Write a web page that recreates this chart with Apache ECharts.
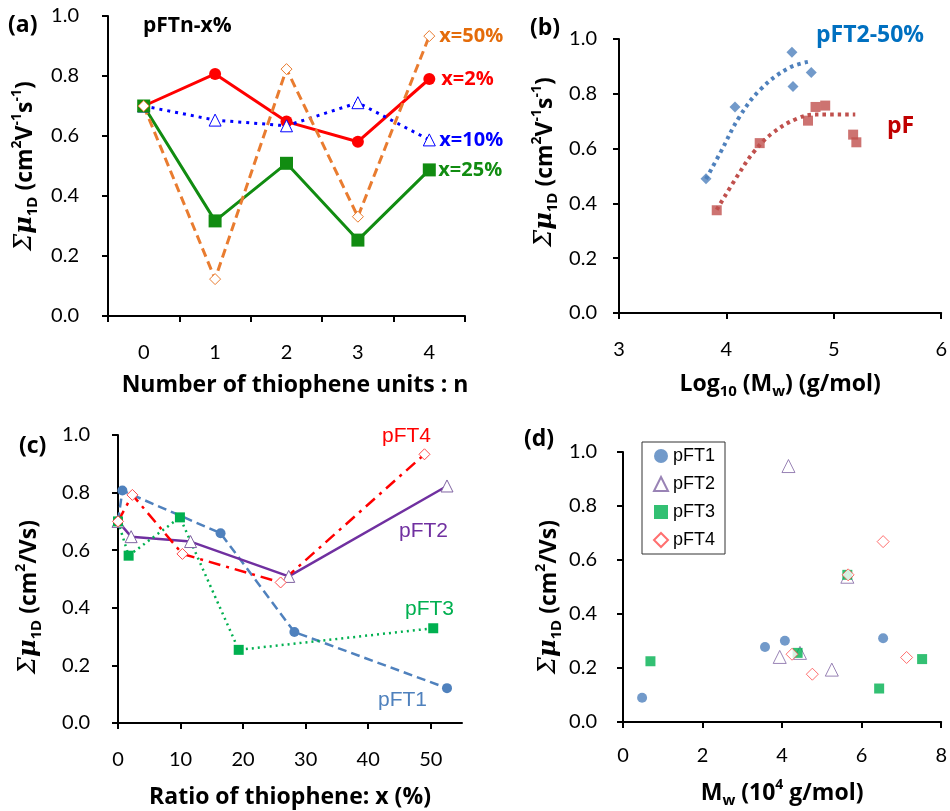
<!DOCTYPE html>
<html><head><meta charset="utf-8">
<script src="https://cdn.jsdelivr.net/npm/echarts@6.0.0/dist/echarts.min.js"></script>
<style>html,body{margin:0;padding:0;background:#fff}#c{width:950px;height:811px}</style>
</head><body><div id="c"></div>
<script>
// ---------- Panel (a): mobility vs number of thiophene units n ----------
const aCategories = ['0', '1', '2', '3', '4'];
const aX2  = [0.700, 0.807, 0.648, 0.581, 0.790];
const aX10 = [0.700, 0.653, 0.634, 0.711, 0.587];
const aX25 = [0.700, 0.317, 0.509, 0.253, 0.487];
const aX50 = [0.700, 0.123, 0.823, 0.331, 0.933];

// ---------- Panel (b): mobility vs log10(Mw) ----------
const bPFT2x = [3.81, 4.08, 4.61, 4.62, 4.79];
const bPFT2y = [0.490, 0.752, 0.952, 0.827, 0.878];
const bPFx = [3.91, 4.31, 4.76, 4.83, 4.92, 5.18, 5.21];
const bPFy = [0.375, 0.620, 0.702, 0.752, 0.757, 0.651, 0.623];
// trend lines
const bPFT2TrendX = [3.81, 3.95, 4.12, 4.32, 4.58, 4.78];
const bPFT2TrendY = [0.489, 0.590, 0.715, 0.817, 0.894, 0.918];
const bPFTrendX = [3.91, 4.12, 4.26, 4.43, 4.65, 4.83, 5.20];
const bPFTrendY = [0.377, 0.511, 0.590, 0.657, 0.708, 0.724, 0.724];

// ---------- Panel (c): mobility vs ratio of thiophene x (%) ----------
const cPFT1x = [0, 0.7, 16.4, 28.2, 52.6];
const cPFT1y = [0.700, 0.807, 0.659, 0.316, 0.121];
const cPFT2x = [0, 2.1, 11.6, 27.3, 52.6];
const cPFT2y = [0.700, 0.647, 0.630, 0.509, 0.823];
const cPFT3x = [0, 1.7, 9.9, 19.3, 50.4];
const cPFT3y = [0.700, 0.581, 0.714, 0.254, 0.329];
const cPFT4x = [0, 2.3, 10.3, 26.0, 49.0];
const cPFT4y = [0.700, 0.792, 0.587, 0.488, 0.933];

// ---------- Panel (d): mobility vs Mw (10^4 g/mol) ----------
const dPFT1x = [0.48, 3.57, 4.07, 6.54];
const dPFT1y = [0.090, 0.278, 0.301, 0.310];
const dPFT2x = [4.16, 3.94, 4.45, 5.25, 5.64];
const dPFT2y = [0.948, 0.241, 0.256, 0.194, 0.538];
const dPFT3x = [0.69, 4.39, 5.64, 6.44, 7.52];
const dPFT3y = [0.225, 0.256, 0.545, 0.124, 0.233];
const dPFT4x = [4.25, 4.76, 5.66, 6.54, 7.13];
const dPFT4y = [0.251, 0.177, 0.545, 0.668, 0.239];

// tick values
const cXTicks = [0, 10, 20, 30, 40, 50];

const zip = (xs, ys) => xs.map((x, i) => [x, ys[i]]);

const FONT = 'Lato';
const BOLD = 'Open Sans';
const ARIAL = 'Liberation Sans';

const richY = {
  m:   {fontSize: 24, fontFamily: 'DejaVu Serif', fontStyle: 'italic', color: '#000', lineHeight: 30, verticalAlign: 'middle'},
  mu:  {fontSize: 24, fontFamily: 'DejaVu Serif', fontStyle: 'italic', fontWeight: 'bold', color: '#000', lineHeight: 30, verticalAlign: 'middle'},
  t:   {fontSize: 23, fontFamily: BOLD, fontWeight: 'bold', color: '#000', lineHeight: 30, verticalAlign: 'middle'},
  sup: {fontSize: 14, fontFamily: BOLD, fontWeight: 'bold', color: '#000', lineHeight: 16, verticalAlign: 'top'},
  sub: {fontSize: 15, fontFamily: BOLD, fontWeight: 'bold', color: '#000', lineHeight: 16, verticalAlign: 'bottom'}
};
const yName1 = '{m|Σ}{mu|μ}{sub|1D}{t| (cm}{sup|2}{t|V}{sup|-1}{t|s}{sup|-1}{t|)}';
const yName2 = '{m|Σ}{mu|μ}{sub|1D}{t| (cm}{sup|2}{t|/Vs)}';

function yAxis(gridIndex, margin, nameGap, name, pad) {
  return {
    type: 'value', gridIndex, min: 0, max: 1, interval: 0.2,
    name, nameLocation: 'middle', nameGap, nameRotate: 90,
    nameTextStyle: {rich: richY, padding: pad || 0},
    axisLine: {show: true, onZero: false, lineStyle: {color: '#000', width: 2}},
    axisTick: {show: true, inside: false, length: 6, lineStyle: {color: '#000', width: 2}},
    splitLine: {show: false},
    axisLabel: {color: '#000', fontSize: 20, fontFamily: FONT, margin, formatter: v => v.toFixed(1)}
  };
}
function xValAxis(gridIndex, min, max, interval, margin, nameGap, name, extra) {
  return Object.assign({
    type: 'value', gridIndex, min, max, interval,
    name, nameLocation: 'middle', nameGap,
    nameTextStyle: {rich: richY},
    axisLine: {show: true, onZero: false, lineStyle: {color: '#000', width: 2}},
    axisTick: {show: true, inside: false, length: 6, lineStyle: {color: '#000', width: 2}},
    splitLine: {show: false},
    axisLabel: {color: '#000', fontSize: 20, fontFamily: FONT, margin}
  }, extra || {});
}

const option = {
  animation: false,
  backgroundColor: '#fff',
  grid: [
    {left: 108, top: 16, width: 357, height: 300},
    {left: 619, top: 39, width: 324, height: 274},
    {left: 118, top: 435, width: 344, height: 288},
    {left: 623, top: 452, width: 323, height: 270}
  ],
  xAxis: [
    {
      type: 'category', gridIndex: 0, data: aCategories, boundaryGap: true,
      name: '{t|Number of thiophene units : n}', nameLocation: 'middle', nameGap: 54,
      nameTextStyle: {rich: richY, padding: [0, 0, 0, 17]},
      axisLine: {show: true, onZero: false, lineStyle: {color: '#000', width: 2}},
      axisTick: {show: true, inside: false, length: 6, alignWithLabel: false, lineStyle: {color: '#000', width: 2}},
      splitLine: {show: false},
      axisLabel: {color: '#000', fontSize: 20, fontFamily: FONT, margin: 27}
    },
    xValAxis(1, 3, 6, 1, 27, 56, '{t|Log}{sub|10}{t| (M}{sub|w}{t|) (g/mol)}'),
    xValAxis(2, 0, 55, 10, 27, 59, '{t|Ratio of thiophene: x (%)}', {
      axisLabel: {color: '#000', fontSize: 20, fontFamily: FONT, margin: 27, customValues: cXTicks},
      axisTick: {show: true, inside: false, length: 6, customValues: cXTicks, lineStyle: {color: '#000', width: 2}}
    }),
    xValAxis(3, 0, 8, 2, 24, 56, '{t|M}{sub|w}{t| (10}{sup|4}{t| g/mol)}')
  ],
  yAxis: [
    yAxis(0, 29, 68, yName1),
    yAxis(1, 22, 59, yName1, [0, 0, 0, 28]),
    yAxis(2, 28, 74, yName2, [0, 36, 0, 0]),
    yAxis(3, 26, 59, yName2, [0, 20, 0, 0])
  ],
  legend: {
    data: ['pFT1', 'pFT2', 'pFT3', 'pFT4'],
    orient: 'vertical', left: 642, top: 442,
    padding: [5, 10, 5, 11], itemGap: 10, itemWidth: 14, itemHeight: 14,
    borderColor: '#333', borderWidth: 1, backgroundColor: '#fff',
    textStyle: {fontSize: 18, fontFamily: ARIAL, color: '#000'},
    selectedMode: false
  },
  graphic: [
    {type: 'text', x: 8, y: 25, style: {text: '(a)', fill: '#000', fontSize: 23, fontWeight: 'bold', fontFamily: BOLD, verticalAlign: 'middle'}},
    {type: 'text', x: 143, y: 26, style: {text: 'pFTn-x%', fill: '#000', fontSize: 21, fontWeight: 'bold', fontFamily: BOLD, verticalAlign: 'middle'}},
    {type: 'text', x: 530, y: 28, style: {text: '(b)', fill: '#000', fontSize: 23, fontWeight: 'bold', fontFamily: BOLD, verticalAlign: 'middle'}},
    {type: 'text', x: 816, y: 35, style: {text: 'pFT2-50%', fill: '#0070c0', fontSize: 23, fontWeight: 'bold', fontFamily: BOLD, verticalAlign: 'middle'}},
    {type: 'text', x: 887, y: 126, style: {text: 'pF', fill: '#c00000', fontSize: 23, fontWeight: 'bold', fontFamily: BOLD, verticalAlign: 'middle'}},
    {type: 'text', x: 19, y: 446, style: {text: '(c)', fill: '#000', fontSize: 23, fontWeight: 'bold', fontFamily: BOLD, verticalAlign: 'middle'}},
    {type: 'text', x: 382, y: 436, style: {text: 'pFT4', fill: '#ff0000', fontSize: 21, fontFamily: ARIAL, verticalAlign: 'middle'}},
    {type: 'text', x: 399, y: 531, style: {text: 'pFT2', fill: '#7030a0', fontSize: 21, fontFamily: ARIAL, verticalAlign: 'middle'}},
    {type: 'text', x: 405, y: 609, style: {text: 'pFT3', fill: '#00b050', fontSize: 21, fontFamily: ARIAL, verticalAlign: 'middle'}},
    {type: 'text', x: 378, y: 700, style: {text: 'pFT1', fill: '#4f81bd', fontSize: 21, fontFamily: ARIAL, verticalAlign: 'middle'}},
    {type: 'text', x: 524, y: 439, style: {text: '(d)', fill: '#000', fontSize: 23, fontWeight: 'bold', fontFamily: BOLD, verticalAlign: 'middle'}}
  ],
  series: [
    // (a)
    {type: 'line', name: 'x=2%', xAxisIndex: 0, yAxisIndex: 0, data: aX2,
     symbol: 'circle', symbolSize: 12, lineStyle: {color: '#ff0000', width: 3},
     itemStyle: {color: '#ff0000'},
     endLabel: {show: true, formatter: 'x=2%', color: '#ff0000', fontWeight: 'bold', fontSize: 20, fontFamily: BOLD, distance: 12}},
    {type: 'line', name: 'x=10%', xAxisIndex: 0, yAxisIndex: 0, data: aX10,
     symbol: 'triangle', symbolSize: 12, lineStyle: {color: '#0000ff', width: 3, type: [3, 5]},
     itemStyle: {color: '#fff', borderColor: '#0000ff', borderWidth: 1},
     endLabel: {show: true, formatter: 'x=10%', color: '#0000ff', fontWeight: 'bold', fontSize: 20, fontFamily: BOLD, distance: 10}},
    {type: 'line', name: 'x=25%', xAxisIndex: 0, yAxisIndex: 0, data: aX25,
     symbol: 'rect', symbolSize: 13, lineStyle: {color: '#118c11', width: 3},
     itemStyle: {color: '#118c11'},
     endLabel: {show: true, formatter: 'x=25%', color: '#118c11', fontWeight: 'bold', fontSize: 20, fontFamily: BOLD, distance: 9}},
    {type: 'line', name: 'x=50%', xAxisIndex: 0, yAxisIndex: 0, data: aX50,
     symbol: 'diamond', symbolSize: 11, lineStyle: {color: '#e97c30', width: 3, type: [9, 5]},
     itemStyle: {color: '#fff', borderColor: '#e97c30', borderWidth: 1},
     endLabel: {show: true, formatter: 'x=50%', color: '#e46c0a', fontWeight: 'bold', fontSize: 20, fontFamily: BOLD, distance: 10}},
    // (b)
    {type: 'line', name: 'pFT2-50% trend', xAxisIndex: 1, yAxisIndex: 1, data: zip(bPFT2TrendX, bPFT2TrendY),
     smooth: 0.4, showSymbol: false, symbol: 'none', lineStyle: {color: '#4f81bd', width: 4, type: [3.5, 4]}},
    {type: 'line', name: 'pF trend', xAxisIndex: 1, yAxisIndex: 1, data: zip(bPFTrendX, bPFTrendY),
     smooth: 0.4, showSymbol: false, symbol: 'none', lineStyle: {color: '#c0504d', width: 4, type: [3.5, 4]}},
    {type: 'scatter', name: 'pFT2-50%', xAxisIndex: 1, yAxisIndex: 1, data: zip(bPFT2x, bPFT2y),
     symbol: 'diamond', symbolSize: 11, itemStyle: {color: '#4f81bd'}},
    {type: 'scatter', name: 'pF', xAxisIndex: 1, yAxisIndex: 1, data: zip(bPFx, bPFy),
     symbol: 'rect', symbolSize: 10, itemStyle: {color: '#c0504d'}},
    // (c)
    {type: 'line', name: 'pFT1 (c)', xAxisIndex: 2, yAxisIndex: 2, data: zip(cPFT1x, cPFT1y),
     symbol: 'circle', symbolSize: 10, lineStyle: {color: '#4f81bd', width: 2.5, type: [9, 5]},
     itemStyle: {color: '#4f81bd'}},
    {type: 'line', name: 'pFT2 (c)', xAxisIndex: 2, yAxisIndex: 2, data: zip(cPFT2x, cPFT2y),
     symbol: 'triangle', symbolSize: 12, lineStyle: {color: '#7030a0', width: 2.5},
     itemStyle: {color: '#fff', borderColor: '#8064a2', borderWidth: 1}},
    {type: 'line', name: 'pFT3 (c)', xAxisIndex: 2, yAxisIndex: 2, data: zip(cPFT3x, cPFT3y),
     symbol: 'rect', symbolSize: 10, lineStyle: {color: '#00b050', width: 2.5, type: [2, 4]},
     itemStyle: {color: '#00b050'}},
    {type: 'line', name: 'pFT4 (c)', xAxisIndex: 2, yAxisIndex: 2, data: zip(cPFT4x, cPFT4y),
     symbol: 'diamond', symbolSize: 11, lineStyle: {color: '#ff0000', width: 2.5, type: [12, 6, 3, 6]},
     itemStyle: {color: '#fff', borderColor: '#ff4b4b', borderWidth: 1}},
    // (d)
    {type: 'scatter', name: 'pFT1', xAxisIndex: 3, yAxisIndex: 3, data: zip(dPFT1x, dPFT1y),
     symbol: 'circle', symbolSize: 10, itemStyle: {color: '#4f81bd'}},
    {type: 'scatter', name: 'pFT2', xAxisIndex: 3, yAxisIndex: 3, data: zip(dPFT2x, dPFT2y),
     symbol: 'triangle', symbolSize: 13, itemStyle: {color: '#fff', borderColor: '#8064a2', borderWidth: 1}},
    {type: 'scatter', name: 'pFT3', xAxisIndex: 3, yAxisIndex: 3, data: zip(dPFT3x, dPFT3y),
     symbol: 'rect', symbolSize: 10, itemStyle: {color: '#00b050'}},
    {type: 'scatter', name: 'pFT4', xAxisIndex: 3, yAxisIndex: 3, data: zip(dPFT4x, dPFT4y),
     symbol: 'diamond', symbolSize: 12, itemStyle: {color: '#fff', borderColor: '#ff4b4b', borderWidth: 1}}
  ]
};
const chart = echarts.init(document.getElementById('c'));
chart.setOption(option);
</script>
</body></html>
